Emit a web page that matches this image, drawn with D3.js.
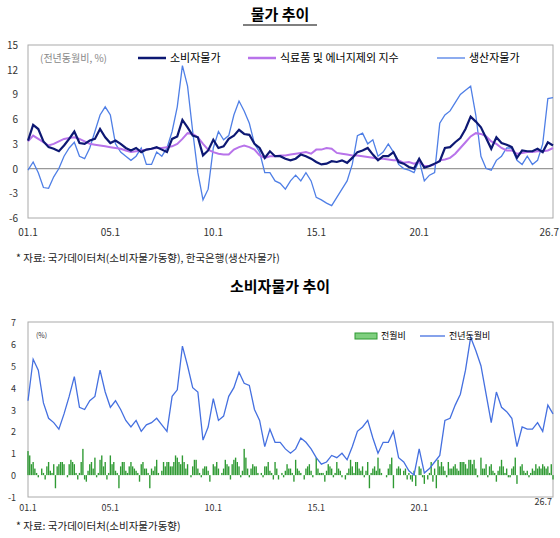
<!DOCTYPE html>
<html><head><meta charset="utf-8">
<script src="https://cdn.jsdelivr.net/npm/d3@7"></script>
<style>
body{margin:0;background:#fff;font-family:"Noto Sans CJK KR","Noto Sans",sans-serif;}
text{font-family:"Noto Sans CJK KR","Noto Sans",sans-serif;}
</style></head>
<body><div class="chart"></div>
<script>
// quarterly points (Jan, Apr, Jul, Oct), 2001.1 - 2026.7
var cpi = [3.4,5.3,4.8,3.3, 2.6,2.4,2.1,2.8, 3.6,4.5,3.1,3.0, 3.4,3.6,4.8,3.8, 3.1,3.4,3.0,2.5,
	2.2,2.5,2.0,2.3, 2.4,2.6,2.3,2.0, 3.6,3.9,5.9,5.0, 4.0,3.8,1.6,2.2, 3.5,2.5,2.7,3.6,
	4.0,4.7,4.2,4.1, 3.0,2.5,1.3,2.1, 1.5,1.5,1.2,1.0, 1.2,1.7,1.5,1.2, 0.8,0.5,0.6,0.9,
	0.8,1.0,0.7,1.3, 2.0,2.2,2.5,1.7, 1.0,1.5,1.5,2.0, 0.8,0.6,0.2,0.0, 1.2,0.1,0.3,0.6,
	0.9,2.5,2.6,3.2, 3.7,4.8,6.3,5.7, 5.0,3.7,2.4,3.8, 3.1,2.9,2.6,1.3, 2.2,2.1,2.1,2.4, 2.0,3.2,2.8];
var core = [3.3,4.0,3.6,3.2, 2.8,3.0,3.3,3.6, 3.7,3.8,3.6,3.3, 3.0,2.9,2.8,2.7, 2.6,2.5,2.4,2.2,
	2.0,2.1,2.2,2.3, 2.4,2.5,2.5,2.6, 2.7,3.0,3.6,4.3, 4.2,3.8,3.0,2.3, 2.0,1.8,1.7,1.7,
	2.3,2.6,2.8,2.6, 2.3,1.6,1.3,1.5, 1.5,1.6,1.6,1.7, 1.8,1.9,2.0,1.8, 2.3,2.3,2.5,2.4,
	1.9,1.8,1.7,1.6, 1.6,1.5,1.4,1.3, 1.2,1.2,1.1,1.0, 1.0,0.7,0.8,0.6, 0.8,0.3,0.3,0.5,
	1.0,1.1,1.3,1.8, 2.5,3.2,3.9,4.3, 4.2,3.9,3.3,3.0, 2.5,2.2,2.2,1.8, 1.9,2.0,2.0,2.1, 2.1,2.2,2.5];
var ppi = [-0.2,0.8,-0.5,-2.3, -2.4,-1.0,0.0,1.5, 2.5,3.2,1.5,1.2, 2.5,4.5,6.5,7.5, 6.5,3.0,2.0,1.5,
	1.0,1.5,2.5,0.5, 0.5,2.0,1.5,2.5, 4.5,7.5,12.5,10.0, 4.5,-0.5,-3.8,-2.5, 2.5,4.5,3.5,4.0,
	6.5,8.2,7.0,5.5, 3.0,2.0,-0.5,-0.5, -1.5,-1.8,-2.5,-1.5, -0.8,-1.5,-0.5,-1.5, -3.5,-3.8,-4.2,-4.5,
	-3.5,-2.5,-1.5,0.5, 4.0,4.3,3.0,3.5, 1.5,2.0,3.0,2.0, 0.5,0.0,-0.2,-0.5, 1.0,-1.5,-0.8,-0.5,
	5.5,6.5,7.0,8.0, 9.0,9.5,10.0,6.5, 1.5,0.0,-0.2,1.0, 1.5,2.5,2.5,1.0, 0.5,1.5,0.5,1.0, 3.0,8.5,8.6];
// monthly, month-on-month %
var mom = [1.1,0.9,0.5,0.6,0.3,0.1,-0.1,0.0,0.3,0.1,-0.2,0.4,
	0.6,0.2,0.1,0.5,-0.6,0.4,0.5,0.6,0.6,0.5,0.0,-0.1,
	0.5,0.7,0.6,0.5,0.1,-0.2,0.1,0.6,1.2,-0.2,-0.3,0.2,
	0.5,0.6,0.3,0.8,-0.1,0.1,0.7,0.9,0.4,0.6,-0.2,0.1,
	0.9,0.5,0.6,0.2,0.1,-0.6,0.4,0.6,0.6,0.2,0.1,0.4,
	0.6,0.4,0.3,0.2,0.1,-0.3,0.5,0.6,0.3,0.3,0.1,-0.6,
	0.3,0.2,0.4,0.7,0.1,0.0,0.2,0.6,0.4,0.6,0.6,0.4,
	0.4,0.6,0.9,0.8,0.6,0.5,0.9,0.6,0.3,0.5,0.0,-0.1,
	0.4,0.7,0.7,0.3,0.1,-0.1,0.3,0.4,0.4,0.2,-0.3,0.0,
	0.5,0.4,0.6,0.3,0.0,0.1,0.3,0.7,0.5,0.4,-0.2,0.5,
	0.7,0.8,0.6,0.4,-0.1,0.2,1.2,0.8,0.3,-0.1,0.3,0.5,
	0.4,0.4,0.1,0.0,0.1,-0.1,0.4,0.4,0.6,0.2,0.1,-0.2,
	0.6,0.3,-0.2,0.0,0.1,-0.1,0.2,0.5,0.3,0.3,0.1,-0.3,
	0.7,0.3,0.2,0.1,0.0,-0.2,0.3,0.4,0.5,0.2,-0.1,0.0,
	0.8,0.3,0.1,0.1,0.1,-0.3,0.2,0.5,0.4,0.3,-0.1,0.1,
	0.6,0.3,0.2,-0.1,0.0,-0.2,0.1,0.3,0.7,0.4,0.1,0.6,
	0.6,0.3,0.2,0.4,-0.1,0.2,0.6,-0.6,0.1,0.3,0.4,0.2,
	0.8,0.3,0.1,0.0,0.0,-0.1,0.3,0.5,0.8,-0.6,0.0,0.3,
	0.4,0.3,0.0,0.2,0.3,-0.2,0.1,-0.2,-0.3,0.2,-0.5,0.0,
	0.4,0.3,-0.1,-0.4,0.0,-0.2,0.1,0.6,-0.3,0.3,-0.6,0.7,
	0.4,0.6,0.4,0.2,-0.1,0.6,0.3,0.3,0.4,0.5,0.3,0.2,
	0.6,0.6,0.6,0.5,0.3,0.7,0.7,0.5,0.7,0.3,-0.1,0.0,
	0.8,0.3,0.3,0.5,-0.1,0.4,0.5,0.2,0.1,-0.3,0.2,0.4,
	0.7,0.4,0.1,0.3,-0.1,-0.1,0.3,0.4,0.8,-0.4,0.0,0.4,
	0.5,0.2,0.1,0.2,-0.1,0.1,0.3,0.2,0.5,0.3,0.4,0.3,
	0.5,0.4,0.3,0.4,0.1,0.5,-0.2];
var xTickLabels = ['01.1','05.1','10.1','15.1','20.1','26.7'];
var xTickMonths = [0,48,108,168,228,306];
var topTicks = [-6,-3,0,3,6,9,12,15];
var botTicks = [-1,0,1,2,3,4,5,6,7];

var W = 560, H = 538;
var svg = d3.select('.chart').append('svg').attr('width', W).attr('height', H);

var x = d3.scaleLinear().domain([0, 306]).range([28, 553]);
var qx = function(d, i) { return x(i * 3); };
var anchorOf = function(d, i) { return i === 5 ? 'end' : 'middle'; };

// ---------- top chart ----------
svg.append('text').attr('x', 280).attr('y', 20).attr('text-anchor', 'middle')
	.attr('font-size', 15).attr('font-weight', 'bold').text('물가 추이');
svg.append('line').attr('x1', 243).attr('x2', 317).attr('y1', 25).attr('y2', 25)
	.attr('stroke', '#000').attr('stroke-width', 1.2);

var y1 = d3.scaleLinear().domain([-6, 15]).range([218, 45]);
var g1 = svg.append('g');
g1.append('rect').attr('x', 28).attr('y', 45).attr('width', 525).attr('height', 173)
	.attr('fill', 'none').attr('stroke', '#aaa');
g1.append('line').attr('x1', 28).attr('x2', 553).attr('y1', y1(0)).attr('y2', y1(0))
	.attr('stroke', '#999').attr('stroke-width', 1.2);
g1.selectAll('.yt').data(topTicks).enter().append('text')
	.attr('x', 18).attr('y', function(d) { return y1(d) + 4; })
	.attr('text-anchor', 'end').attr('font-size', 10).attr('fill', '#333').text(function(d) { return d; });
g1.selectAll('.xt').data(xTickMonths).enter().append('text')
	.attr('x', function(d, i) { return i === 5 ? 559 : x(d); }).attr('y', 236)
	.attr('text-anchor', anchorOf).attr('font-size', 10).attr('fill', '#333')
	.text(function(d, i) { return xTickLabels[i]; });

var line1 = d3.line().x(qx).y(function(d) { return y1(d); });
g1.append('path').datum(ppi).attr('d', line1).attr('fill', 'none')
	.attr('stroke', '#4f7fe6').attr('stroke-width', 1.3);
g1.append('path').datum(core).attr('d', line1).attr('fill', 'none')
	.attr('stroke', '#b873ea').attr('stroke-width', 2);
g1.append('path').datum(cpi).attr('d', line1).attr('fill', 'none')
	.attr('stroke', '#0d1873').attr('stroke-width', 2.2);

g1.append('text').attr('x', 40).attr('y', 62).attr('font-size', 10).attr('fill', '#888').text('(전년동월비, %)');
var legend1 = [
	{label: '소비자물가', color: '#0d1873', w: 2.5, x: 138},
	{label: '식료품 및 에너지제외 지수', color: '#b873ea', w: 2.5, x: 248},
	{label: '생산자물가', color: '#4f7fe6', w: 1.3, x: 437}
];
legend1.forEach(function(l) {
	g1.append('line').attr('x1', l.x).attr('x2', l.x + 28).attr('y1', 58).attr('y2', 58)
		.attr('stroke', l.color).attr('stroke-width', l.w);
	g1.append('text').attr('x', l.x + 32).attr('y', 62).attr('font-size', 11).text(l.label);
});
svg.append('text').attr('x', 16).attr('y', 262).attr('font-size', 10.5).attr('fill', '#222')
	.text('*  자료:  국가데이터처(소비자물가동향),  한국은행(생산자물가)');

// ---------- bottom chart ----------
svg.append('text').attr('x', 280).attr('y', 292).attr('text-anchor', 'middle')
	.attr('font-size', 15).attr('font-weight', 'bold').text('소비자물가 추이');

var y2 = d3.scaleLinear().domain([-1, 7]).range([497, 322]);
var g2 = svg.append('g');
g2.append('rect').attr('x', 28).attr('y', 322).attr('width', 525).attr('height', 175)
	.attr('fill', 'none').attr('stroke', '#aaa');
g2.selectAll('.yt').data(botTicks).enter().append('text')
	.attr('x', 16).attr('y', function(d) { return y2(d) + 4; })
	.attr('text-anchor', 'end').attr('font-size', 9).attr('fill', '#333').text(function(d) { return d; });
g2.selectAll('.xt').data(xTickMonths).enter().append('text')
	.attr('x', function(d, i) { return i === 5 ? 552 : x(d); })
	.attr('y', function(d, i) { return i === 5 ? 505 : 511; })
	.attr('text-anchor', anchorOf).attr('font-size', 9).attr('fill', '#333')
	.text(function(d, i) { return xTickLabels[i]; });

var bw = (x(1) - x(0)) * 0.8;
g2.selectAll('.bar').data(mom).enter().append('rect')
	.attr('x', function(d, i) { return x(i) - bw / 2; })
	.attr('y', function(d) { return y2(Math.max(0, d)); })
	.attr('width', bw)
	.attr('height', function(d) { return Math.abs(y2(d) - y2(0)); })
	.attr('fill', '#2f9a33');

var line2 = d3.line().x(qx).y(function(d) { return y2(d); });
g2.append('path').datum(cpi).attr('d', line2).attr('fill', 'none')
	.attr('stroke', '#4570e0').attr('stroke-width', 1.3);

g2.append('text').attr('x', 36).attr('y', 338).attr('font-size', 7).attr('fill', '#333').text('(%)');
g2.append('rect').attr('x', 355).attr('y', 333).attr('width', 22).attr('height', 6)
	.attr('fill', '#7fcf7f').attr('stroke', '#2f9a33');
g2.append('text').attr('x', 381).attr('y', 339).attr('font-size', 9).text('전월비');
g2.append('line').attr('x1', 420).attr('x2', 445).attr('y1', 336).attr('y2', 336)
	.attr('stroke', '#4570e0').attr('stroke-width', 1.3);
g2.append('text').attr('x', 449).attr('y', 339).attr('font-size', 9).text('전년동월비');
svg.append('text').attr('x', 16).attr('y', 530).attr('font-size', 10.5).attr('fill', '#222')
	.text('*  자료:  국가데이터처(소비자물가동향)');
</script></body></html>
